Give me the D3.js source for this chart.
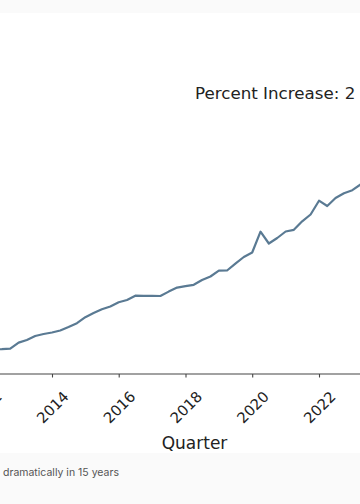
<!DOCTYPE html>
<html>
<head>
<meta charset="utf-8">
<script src="https://cdn.jsdelivr.net/npm/d3@7/dist/d3.min.js"></script>
<style>
  html, body { margin: 0; padding: 0; background: #fafafa; }
  svg { display: block; }
</style>
</head>
<body>
<script>
// ---- data (index units) ----
const quarters = [
  "2012-04","2012-07","2012-10","2013-01","2013-04","2013-07","2013-10",
  "2014-01","2014-04","2014-07","2014-10","2015-01","2015-04","2015-07","2015-10",
  "2016-01","2016-04","2016-07","2016-10","2017-01","2017-04","2017-07","2017-10",
  "2018-01","2018-04","2018-07","2018-10","2019-01","2019-04","2019-07","2019-10",
  "2020-01","2020-04","2020-07","2020-10","2021-01","2021-04","2021-07","2021-10",
  "2022-01","2022-04","2022-07","2022-10","2023-01","2023-04"
];
const values = [
  24.5, 24.8, 25.3, 31.4, 34, 38, 40,
  41.5, 43.5, 47, 50.8, 56.8, 61, 64.8, 67.5,
  71.8, 74, 78.3, 78.2, 78.1, 78, 82.4, 86.4,
  87.8, 89.2, 94, 97.5, 103.3, 103.5, 110.3, 117,
  121.5, 142.3, 130.5, 136, 142.5, 144.2, 152.7, 159.5,
  173.3, 168, 176, 180.8, 183.8, 189.5
];
const tickYears = [2012, 2014, 2016, 2018, 2020, 2022];
const annotation = "Percent Increase: 2";
const xLabel = "Quarter";
const caption = "dramatically in 15 years";

// ---- layout ----
const W = 360, H = 504;
const plotTop = 13, plotBottom = 453;
const axisY = 374;

const parse = d3.timeParse("%Y-%m");
const data = quarters.map((q, i) => ({ date: parse(q), value: values[i] }));

const x = d3.scaleTime()
  .domain([new Date(2014, 0, 1), new Date(2022, 0, 1)])
  .range([52, 319]);
const y = d3.scaleLinear()
  .domain([0, 200])
  .range([axisY, axisY - 200]);

const svg = d3.select("body").append("svg")
  .attr("width", W).attr("height", H);

// backgrounds
svg.append("rect").attr("x", 0).attr("y", 0).attr("width", W).attr("height", H).attr("fill", "#fafafa");
svg.append("rect").attr("x", 0).attr("y", plotTop).attr("width", W).attr("height", plotBottom - plotTop).attr("fill", "#ffffff");

// line
const line = d3.line().x(d => x(d.date)).y(d => y(d.value));
svg.append("path")
  .datum(data)
  .attr("d", line)
  .attr("fill", "none")
  .attr("stroke", "#5a7a93")
  .attr("stroke-width", 2.2)
  .attr("stroke-linejoin", "round");

// axis
const axis = d3.axisBottom(x)
  .tickValues(tickYears.map(yr => new Date(yr, 0, 1)))
  .tickFormat(d3.timeFormat("%Y"))
  .tickSize(3.5)
  .tickSizeOuter(0);
const gx = svg.append("g").attr("transform", `translate(0,${axisY})`).call(axis);
gx.select(".domain").remove();
gx.selectAll(".tick line").attr("stroke", "#444").attr("stroke-width", 1.1);
gx.selectAll(".tick text")
  .attr("y", 0).attr("dy", null)
  .attr("text-anchor", "middle")
  .attr("dominant-baseline", "central")
  .attr("transform", "translate(0,33) rotate(-45)")
  .attr("fill", "#222")
  .style("font-family", "DejaVu Sans")
  .style("font-size", "14.8px");
gx.append("line")
  .attr("x1", x(new Date(2009, 0, 1))).attr("x2", x(new Date(2025, 6, 1)))
  .attr("y1", 0).attr("y2", 0)
  .attr("stroke", "#444").attr("stroke-width", 1.2);

// texts
svg.append("text")
  .attr("x", 195).attr("y", 99)
  .attr("fill", "#222")
  .style("font-family", "DejaVu Sans")
  .style("font-size", "16.7px")
  .text(annotation);

svg.append("text")
  .attr("x", 194.5).attr("y", 449)
  .attr("text-anchor", "middle")
  .attr("fill", "#222")
  .style("font-family", "DejaVu Sans")
  .style("font-size", "17px")
  .text(xLabel);

svg.append("text")
  .attr("x", 3).attr("y", 476)
  .attr("fill", "#555")
  .style("font-family", "Inter")
  .style("font-size", "10.5px")
  .text(caption);
</script>
</body>
</html>
